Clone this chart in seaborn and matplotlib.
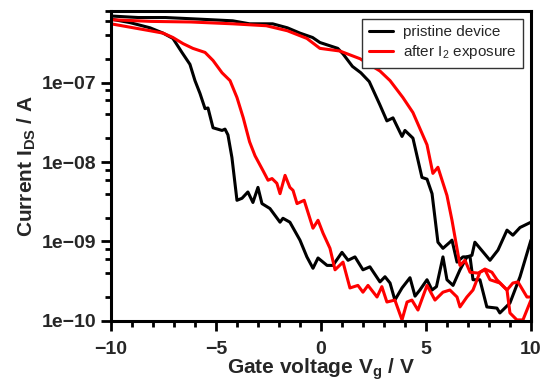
import matplotlib
matplotlib.use("Agg")
import matplotlib.pyplot as plt
from matplotlib.ticker import LogLocator, MultipleLocator, FuncFormatter, NullFormatter
import pandas as pd
import seaborn as sns

# pristine device, forward sweep (-10 V -> 10 V)
pristine_fwd_v = [-10.0, -8.7, -7.4, -5.8, -4.2, -3.4, -2.3, -1.6, -1.0, -0.4, -0.05, 0.8, 1.05,
                  1.5, 1.9, 2.3, 2.8, 3.14, 3.43, 3.86, 4.0, 4.38, 4.81, 5.05, 5.29, 5.57, 5.81,
                  6.14, 6.24, 6.48, 6.76, 7.1, 7.24, 7.57, 7.9, 8.38, 8.52, 9.0, 9.48, 10.0]
pristine_fwd_i = [6.9e-7, 6.6e-7, 6.6e-7, 6.3e-7, 6.0e-7, 5.5e-7, 5.5e-7, 4.9e-7, 4.2e-7, 3.7e-7,
                  3.2e-7, 2.7e-7, 2.3e-7, 1.6e-7, 1.33e-7, 1.03e-7, 5.3e-8, 3.3e-8, 3.6e-8, 2.1e-8,
                  2.5e-8, 2.0e-8, 6.4e-9, 6.1e-9, 4.0e-9, 9.8e-10, 8.2e-10, 9.8e-10, 1.04e-9,
                  5.5e-10, 6.4e-10, 6.4e-10, 3.3e-10, 3.3e-10, 1.5e-10, 1.45e-10, 1.26e-10,
                  1.68e-10, 3.6e-10, 1.04e-9]

# pristine device, backward sweep (10 V -> -10 V)
pristine_bwd_v = [10.0, 9.48, 9.14, 8.86, 8.43, 8.05, 7.33, 7.19, 6.95, 6.62, 6.29, 6.0, 5.81,
                  5.5, 5.29, 5.05, 4.71, 4.48, 4.24, 3.86, 3.52, 3.29, 3.05, 2.81, 2.33, 2.0,
                  1.62, 1.29, 1.0, 0.57, 0.29, -0.14, -0.38, -0.67, -1.0, -1.48, -1.81, -1.95,
                  -2.43, -2.81, -3.0, -3.24, -3.48, -3.76, -4.0, -4.24, -4.43, -4.57, -4.71,
                  -5.14, -5.38, -5.52, -5.76, -6.0, -6.24, -6.62, -7.05, -7.52, -8.14, -9.1, -10.0]
pristine_bwd_i = [1.75e-9, 1.5e-9, 1.2e-9, 1.39e-9, 7.8e-10, 5.8e-10, 9.8e-10, 6.7e-10, 6.4e-10,
                  4.4e-10, 2.8e-10, 3.3e-10, 6.4e-10, 2.7e-10, 2.45e-10, 3.3e-10, 2.45e-10,
                  2.05e-10, 3.5e-10, 2.6e-10, 1.83e-10, 3.0e-10, 3.6e-10, 3.1e-10, 4.8e-10,
                  4.4e-10, 6.4e-10, 5.8e-10, 7.3e-10, 5.0e-10, 5.0e-10, 6.2e-10, 4.6e-10, 6.4e-10,
                  1.04e-9, 1.75e-9, 1.96e-9, 1.75e-9, 2.6e-9, 3.0e-9, 4.8e-9, 3.1e-9, 4.2e-9,
                  3.5e-9, 3.3e-9, 1.14e-8, 2.2e-8, 2.6e-8, 2.5e-8, 2.7e-8, 4.8e-8, 4.7e-8, 7.3e-8,
                  1.06e-7, 1.7e-7, 2.4e-7, 3.6e-7, 4.2e-7, 4.9e-7, 5.7e-7, 6.3e-7]

# after I2 exposure, forward sweep
iodine_fwd_v = [-10.0, -8.1, -6.2, -4.2, -2.6, -1.6, -0.67, -0.05, 0.9, 1.86, 2.81, 3.29, 3.9,
                4.38, 5.05, 5.33, 5.57, 6.0, 6.24, 6.62, 6.86, 7.1, 7.48, 7.81, 8.05, 8.52, 8.86,
                9.0, 9.33, 9.62, 10.0]
iodine_fwd_i = [6.2e-7, 5.9e-7, 5.8e-7, 5.5e-7, 5.2e-7, 4.5e-7, 3.6e-7, 2.7e-7, 2.5e-7, 2.0e-7,
                1.4e-7, 1.06e-7, 6.5e-8, 4.2e-8, 1.65e-8, 7.2e-9, 8.6e-9, 3.8e-9, 1.85e-9, 5.0e-10,
                5.8e-10, 4.1e-10, 4.0e-10, 4.4e-10, 3.3e-10, 3.0e-10, 2.45e-10, 1.26e-10,
                1.03e-10, 1.03e-10, 1.83e-10]

# after I2 exposure, backward sweep
iodine_bwd_v = [10.0, 9.81, 9.38, 9.14, 8.86, 8.38, 8.14, 7.81, 7.57, 7.24, 6.95, 6.62, 6.48,
                6.14, 5.81, 5.43, 5.05, 4.62, 4.33, 4.1, 3.86, 3.52, 3.14, 2.9, 2.67, 2.24, 2.0,
                1.76, 1.38, 1.05, 0.67, 0.43, 0.10, -0.14, -0.38, -0.8, -1.14, -1.33, -1.48,
                -1.71, -1.95, -2.1, -2.33, -2.52, -2.76, -3.14, -3.4, -3.7, -4.0, -4.33, -4.71,
                -5.14, -5.52, -6.1, -6.57, -7.05, -7.52, -8.14, -10.0]
iodine_bwd_i = [2.0e-10, 2.0e-10, 3.1e-10, 3.0e-10, 2.45e-10, 3.3e-10, 4.1e-10, 4.5e-10, 4.1e-10,
                2.45e-10, 2.0e-10, 1.5e-10, 2.0e-10, 2.45e-10, 2.3e-10, 1.83e-10, 2.8e-10,
                1.37e-10, 1.83e-10, 1.73e-10, 1.03e-10, 1.83e-10, 1.73e-10, 2.7e-10, 2.0e-10,
                2.8e-10, 2.3e-10, 2.8e-10, 2.6e-10, 5.5e-10, 4.4e-10, 8.2e-10, 1.27e-9, 1.85e-9,
                1.47e-9, 3.3e-9, 3.0e-9, 4.4e-9, 4.8e-9, 6.8e-9, 4.0e-9, 5.4e-9, 6.2e-9, 5.9e-9,
                7.8e-9, 1.2e-8, 1.8e-8, 3.6e-8, 6.5e-8, 1.06e-7, 1.33e-7, 1.9e-7, 2.4e-7, 2.7e-7,
                3.1e-7, 3.7e-7, 4.2e-7, 4.5e-7, 5.5e-7]

labels = ["pristine device", "after I$_2$ exposure"]
colors = {labels[0]: "black", labels[1]: "#ff0000"}

sns.set_style("ticks")
plt.rcParams["font.family"] = ["Liberation Sans", "DejaVu Sans"]
plt.rcParams["mathtext.fontset"] = "custom"
plt.rcParams["mathtext.rm"] = "Liberation Sans"
plt.rcParams["mathtext.bf"] = "Liberation Sans:bold"
plt.rcParams["mathtext.default"] = "regular"


def sweep(v, i, device, direction):
    return pd.DataFrame({"Vg": v, "Ids": i, "device": device, "sweep": direction})


df = pd.concat([sweep(pristine_fwd_v, pristine_fwd_i, labels[0], "fwd"),
                sweep(pristine_bwd_v, pristine_bwd_i, labels[0], "bwd"),
                sweep(iodine_fwd_v, iodine_fwd_i, labels[1], "fwd"),
                sweep(iodine_bwd_v, iodine_bwd_i, labels[1], "bwd")], ignore_index=True)

fig, ax = plt.subplots(figsize=(5.44, 3.89), dpi=100)
fig.subplots_adjust(left=0.204, right=0.976, top=0.972, bottom=0.175)

sns.lineplot(data=df, x="Vg", y="Ids", hue="device", hue_order=labels, units="sweep",
             estimator=None, sort=False, palette=colors, lw=2.2, ax=ax)

ax.set_yscale("log")
ax.set_xlim(-10, 10)
ax.set_ylim(1e-10, 8e-7)
ax.xaxis.set_major_locator(MultipleLocator(5))
ax.xaxis.set_minor_locator(MultipleLocator(1))
ax.yaxis.set_major_locator(LogLocator(base=10))
ax.yaxis.set_minor_locator(LogLocator(base=10, subs=(2, 4, 6, 8)))
ax.yaxis.set_minor_formatter(NullFormatter())
ax.xaxis.set_minor_formatter(NullFormatter())
ax.yaxis.set_major_formatter(FuncFormatter(lambda v, p: f"{v:.0e}".replace("-", "\u2212")))
ax.xaxis.set_major_formatter(FuncFormatter(lambda v, p: f"{v:g}".replace("-", "\u2212")))

ax.tick_params(which="both", direction="out", width=2, color="black", labelsize=14, pad=3)
ax.tick_params(which="major", length=7.5)
ax.tick_params(which="minor", length=4.5)
ax.tick_params(axis="x", which="major", pad=7)
for sp in ax.spines.values():
    sp.set_linewidth(2.2)
    sp.set_color("black")

ax.set_xlabel(r"Gate voltage $\mathbf{V_g}$ / V", fontsize=15, fontweight="bold", labelpad=-1)
ax.set_ylabel(r"Current $\mathbf{I_{DS}}$ / A", fontsize=15, fontweight="bold", labelpad=3)

sns.move_legend(ax, "upper right", title=None, frameon=True, fancybox=False, framealpha=1,
                edgecolor="#333333", fontsize=11, handlelength=1.6, handletextpad=0.6,
                borderaxespad=0.5, borderpad=0.45, labelspacing=0.25)
ax.get_legend().get_frame().set_linewidth(1)

fig.canvas.draw()
plt.setp(ax.get_xticklabels(), fontweight="bold")
plt.setp(ax.get_yticklabels(), fontweight="bold")

fig.savefig("out.png", dpi=100)
